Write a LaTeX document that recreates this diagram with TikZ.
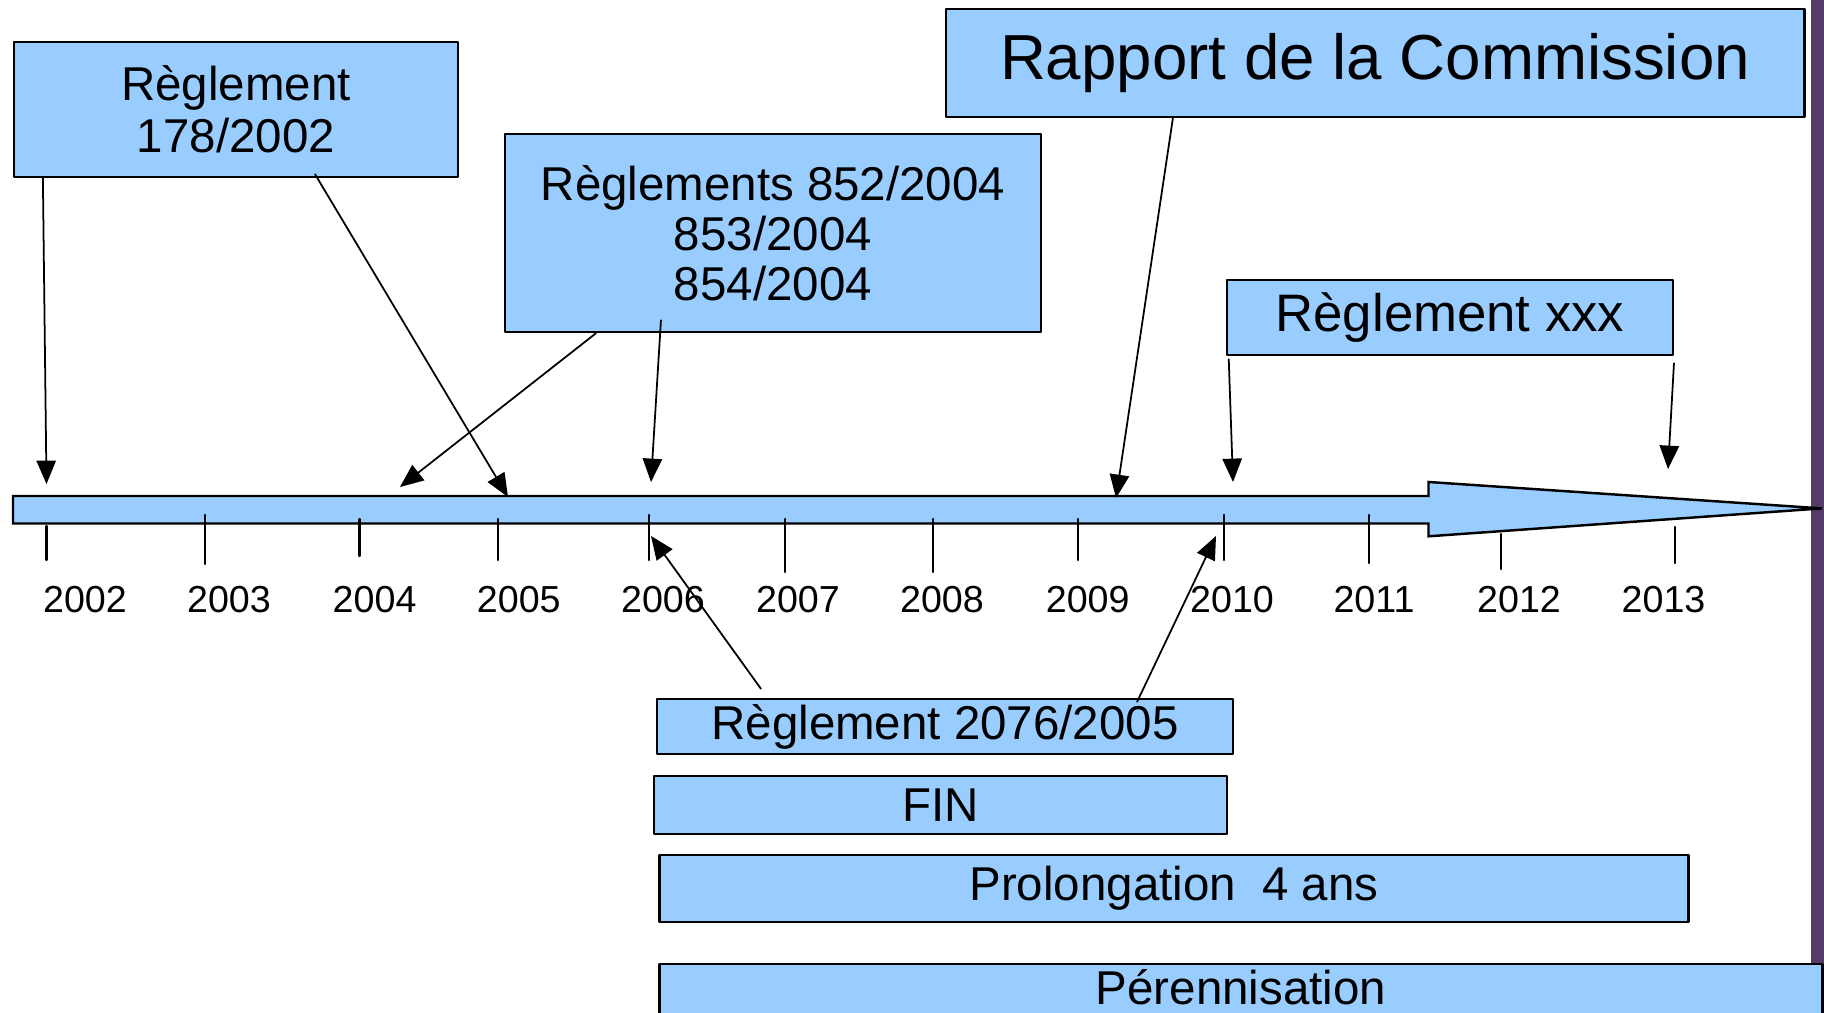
\documentclass[tikz,border=0pt]{standalone}
\usepackage{fontspec}
\setmainfont{Liberation Sans}
\usetikzlibrary{arrows}
\definecolor{zzccff}{rgb}{0.6,0.8,1}
\definecolor{uququq}{rgb}{0.33,0.24,0.42}

\begin{document}
\begin{tikzpicture}[line cap=round,line join=round,>=triangle 45,x=0.01cm,y=-0.01cm,
    boite/.style={draw=black,line width=0.7pt,fill=zzccff,align=center,inner sep=0pt,font=\fontsize{13.5}{14.8}\selectfont},
    fleche/.style={->,line width=0.5pt}]
      \useasboundingbox (0,0) rectangle (1824,1013);
      \clip (0,0) rectangle (1824,1013);
      \fill[color=uququq] (1811,0) rectangle (1824,1013);
      % la frise
      \draw[line width=0.7pt,fill=zzccff,line cap=butt,line join=miter] (13,496) -- (1428.5,496) -- (1428.5,482) -- (1821.7,508.4) -- (1428.5,536.3) -- (1428.5,523.5) -- (13,523.5) -- cycle;
      \foreach \x/\a/\b/\lx/\yr in {46.5/526/560/85/2002,204.7/515/564/229/2003,359.5/519/556/374.6/2004,497.9/519/560/518.8/2005,649/515/560/663/2006,785/519/572/798/2007,933/519/572/942/2008,1078/519/560/1087.7/2009,1224/515/560/1232/2010,1369/515/563/1374/2011,1500.7/534/569/1519/2012,1675/527/563/1663.5/2013}
      {
      \draw[line width=0.6pt] (\x,\a) -- (\x,\b);
      \node[font=\fontsize{10.7}{12}\selectfont] (an\yr) at (\lx,600) {\yr};
      }
      % les boites
      \node[boite,minimum width=4.44cm,minimum height=1.35cm] (r178) at (236,109.5) {Règlement\\178/2002};
      \node[boite,minimum width=5.36cm,minimum height=1.98cm,font=\fontsize{13.5}{14.2}\selectfont] (r852) at (773,233) {Règlements 852/2004\\853/2004\\854/2004};
      \node[boite,minimum width=8.58cm,minimum height=1.08cm,font=\fontsize{18.1}{20}\selectfont] (rapp) at (1375,63) {Rapport de la Commission};
      \node[boite,minimum width=4.46cm,minimum height=0.75cm,font=\fontsize{15}{17}\selectfont] (rxxx) at (1450,317.5) {Règlement xxx};
      \node[boite,minimum width=5.76cm,minimum height=0.55cm] (r2076) at (945,726.5) {Règlement 2076/2005};
      \node[boite,minimum width=5.73cm,minimum height=0.58cm] (fin) at (940.5,805) {FIN};
      \node[boite,minimum width=10.28cm,minimum height=0.67cm] (prol) at (1174,888.5) {Prolongation\ \ 4 ans};
      \node[boite,anchor=north,minimum width=11.62cm,text height=0.405cm,text depth=0.3cm] (pere) at (1241,963) {Pérennisation};
      % les points vises
      \coordinate (h2002) at (46.5,484);
      \coordinate (h2005) at (508,497);
      \coordinate (h2004) at (400,487);
      \coordinate (h2006) at (651,482);
      \coordinate (h2009) at (1116,498);
      \coordinate (h2010) at (1233,482);
      \coordinate (h2013) at (1668,469);
      \coordinate (b2006) at (651,536);
      \coordinate (b2010) at (1216,536);
      \draw[fleche] ([xshift=-1.93cm]r178.south) -- (h2002);
      \draw[fleche] ([xshift=0.79cm,yshift=0.04cm]r178.south) -- (h2005);
      \draw[fleche] ([xshift=-1.77cm]r852.south) -- (h2004);
      \draw[fleche] ([xshift=-1.12cm,yshift=0.13cm]r852.south) -- (h2006);
      \draw[fleche] ([xshift=-2.02cm]rapp.south) -- (h2009);
      \draw[fleche,shorten <=0.03cm] ([xshift=0.03cm]rxxx.south west) -- (h2010);
      \draw[fleche,shorten <=0.07cm] (rxxx.south east) -- (h2013);
      \draw[fleche] ([xshift=-1.84cm,yshift=0.09cm]r2076.north) -- (b2006);
      \draw[fleche] ([xshift=1.92cm,yshift=-0.04cm]r2076.north) -- (b2010);
\end{tikzpicture}
\end{document}
